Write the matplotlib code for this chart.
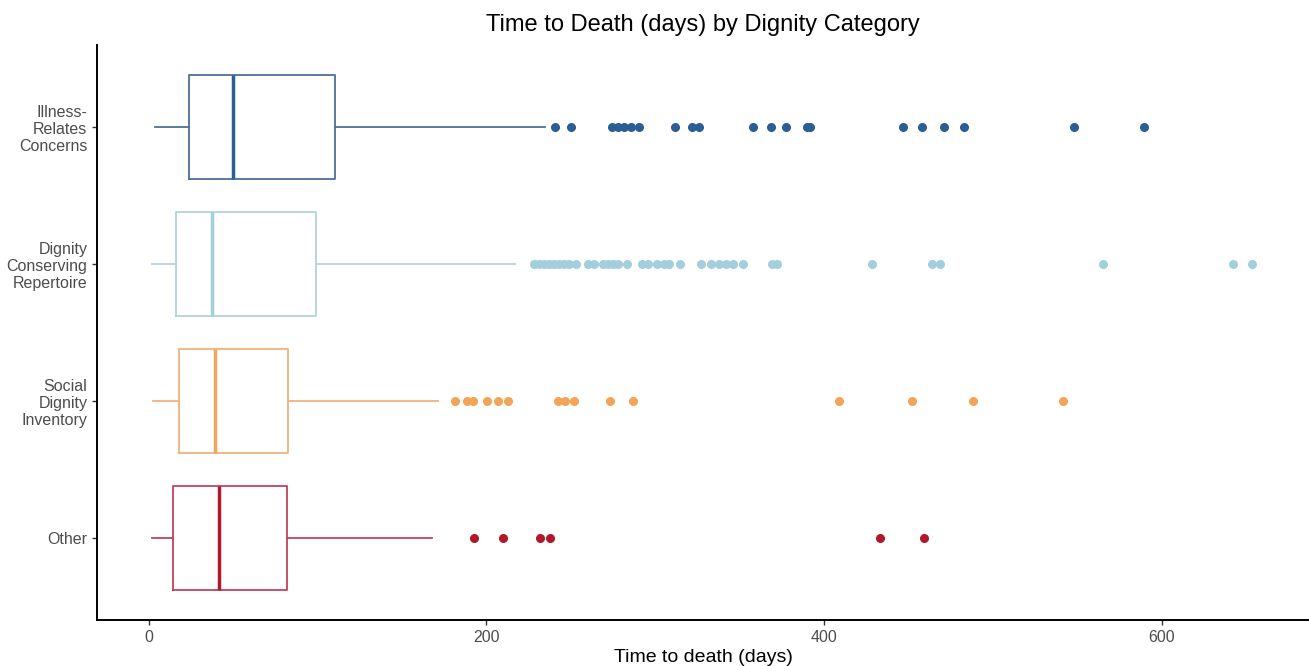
import matplotlib
matplotlib.use("Agg")
import matplotlib.pyplot as plt

plt.rcParams["font.family"] = ["Liberation Sans", "DejaVu Sans"]

# categories, bottom to top
categories = ["Other", "Social\nDignity\nInventory", "Dignity\nConserving\nRepertoire", "Illness-\nRelates\nConcerns"]
colors = ["#b2182b", "#f2a457", "#a3cedb", "#2b5e93"]
edge_colors = ["#c0425a", "#f0b27a", "#b3d3de", "#4d7095"]

# box statistics (days)
whis_lo = [1.8, 2.4, 1.8, 3.6]
q1 = [14.2, 17.8, 16.0, 23.7]
median = [41.5, 39.0, 37.3, 49.8]
q3 = [81.8, 82.4, 99.0, 110.2]
whis_hi = [167.7, 171.3, 217.0, 234.7]

fliers_other = [192.6, 209.8, 231.7, 237.6, 433.2, 459.3]
fliers_sdi = [181.3, 188.3, 192.2, 200.1, 206.6, 212.9, 242.6, 246.5, 251.9,
              273.2, 287.0, 408.9, 452.0, 488.0, 541.6]
fliers_dcr = [228, 231, 234, 237, 240, 243, 246, 249, 253, 260, 264, 269, 272,
              275, 278, 283, 292, 296, 301, 305, 308, 314.7, 327, 333, 338, 342,
              346, 352, 369, 372, 428.2, 463.8, 468.7, 565.5, 642.6, 653.6]
fliers_irc = [240.5, 250.0, 274.1, 277.9, 281.6, 285.4, 290.3, 312.0, 322.0,
              325.7, 358.0, 368.8, 377.5, 390.0, 391.5, 446.6, 457.8, 471.0,
              482.8, 548.3, 589.4]
fliers = [fliers_other, fliers_sdi, fliers_dcr, fliers_irc]

stats = []
for i in range(len(categories)):
    stats.append(dict(whislo=whis_lo[i], q1=q1[i], med=median[i], q3=q3[i],
                      whishi=whis_hi[i], fliers=fliers[i]))

fig = plt.figure(figsize=(13.09, 6.66), dpi=100)
ax = fig.add_axes([97 / 1309, 46 / 666, 1 - 97 / 1309, (620 - 45) / 666])

positions = list(range(1, len(categories) + 1))
for i, st in enumerate(stats):
    ax.bxp([st], positions=[positions[i]], vert=False, widths=0.76,
           showcaps=False, patch_artist=False,
           boxprops=dict(color=edge_colors[i], linewidth=1.3),
           whiskerprops=dict(color=edge_colors[i], linewidth=1.3),
           medianprops=dict(color=colors[i], linewidth=2.5),
           flierprops=dict(marker="o", markerfacecolor=colors[i],
                           markeredgecolor=colors[i], markersize=5.5))

ax.set_ylim(0.4, 4.6)
ax.set_xlim(-30.8, 687.4)
ax.set_xticks([0, 200, 400, 600])
ax.set_yticks(positions)
ax.set_yticklabels(categories)
for t in ax.get_yticklabels():
    t.set_multialignment("right")
    t.set_linespacing(1.15)

for side in ["top", "right"]:
    ax.spines[side].set_visible(False)
for side in ["left", "bottom"]:
    ax.spines[side].set_linewidth(1.4)
    ax.spines[side].set_color("black")
ax.tick_params(axis="both", length=3.5, width=1.0, color="#333333",
               labelcolor="#4d4d4d", labelsize=11.5)

ax.set_xlabel("Time to death (days)", fontsize=14, color="black", labelpad=3)
ax.set_title("Time to Death (days) by Dignity Category", fontsize=17, pad=10)

fig.savefig("out.png", dpi=100)
